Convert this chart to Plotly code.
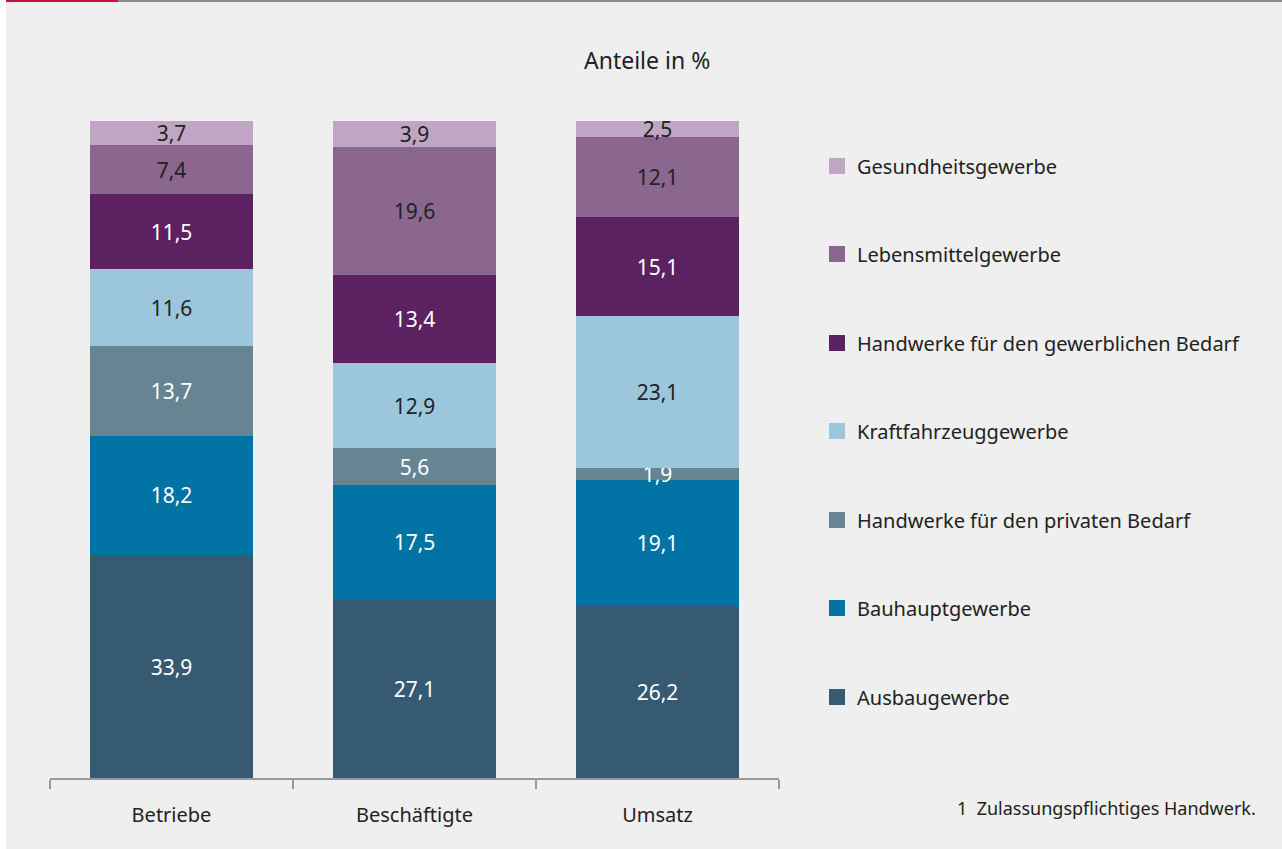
import plotly.graph_objects as go

categories = ["Betriebe", "Beschäftigte", "Umsatz"]
series_names = [
    "Ausbaugewerbe",
    "Bauhauptgewerbe",
    "Handwerke für den privaten Bedarf",
    "Kraftfahrzeuggewerbe",
    "Handwerke für den gewerblichen Bedarf",
    "Lebensmittelgewerbe",
    "Gesundheitsgewerbe",
]
ausbau = [33.9, 27.1, 26.2]
bauhaupt = [18.2, 17.5, 19.1]
privat = [13.7, 5.6, 1.9]
kfz = [11.6, 12.9, 23.1]
gewerblich = [11.5, 13.4, 15.1]
lebensmittel = [7.4, 19.6, 12.1]
gesundheit = [3.7, 3.9, 2.5]
series_values = [ausbau, bauhaupt, privat, kfz, gewerblich, lebensmittel, gesundheit]

colors = ["#355a72", "#0073a5", "#678493", "#9bc6dc", "#5b2160", "#8b668f", "#c0a6c4"]
text_colors = ["white", "white", "white", "#222222", "white", "#222222", "#222222"]

FONT = "Noto Sans"
W, H = 1282, 849
L, R, T, B = 50, 779, 121, 778  # plot area in px


def px(x):
    return (x - L) / (R - L)


def py(y):
    return (B - y) / (B - T)


fig = go.Figure()
for name, vals, col, tcol in zip(series_names, series_values, colors, text_colors):
    fig.add_trace(go.Bar(
        x=categories, y=vals, name=name,
        marker=dict(color=col, line=dict(width=0)),
        text=[f"{v:.1f}".replace(".", ",") for v in vals],
        textposition="inside", insidetextanchor="middle", textangle=0,
        textfont=dict(family=FONT, size=21, color=tcol),
        showlegend=False, hoverinfo="x+y+name",
    ))

shapes = []
annotations = []
# top rule
shapes.append(dict(type="rect", xref="paper", yref="paper", x0=px(6), x1=px(118), y0=py(2), y1=py(0),
                   fillcolor="#c8103e", line=dict(width=0), layer="above"))
shapes.append(dict(type="rect", xref="paper", yref="paper", x0=px(118), x1=px(W), y0=py(2), y1=py(0),
                   fillcolor="#8a8a8a", line=dict(width=0), layer="above"))
shapes.append(dict(type="rect", xref="paper", yref="paper", x0=px(0), x1=px(6), y0=py(H), y1=py(0),
                   fillcolor="white", line=dict(width=0), layer="above"))

# custom legend (top to bottom: reversed stack order)
legend_y = [166, 254, 343, 431, 520, 608, 697]
for i, (name, col) in enumerate(zip(series_names[::-1], colors[::-1])):
    cy = legend_y[i]
    shapes.append(dict(type="rect", xref="paper", yref="paper", x0=px(829), x1=px(845),
                       y0=py(cy + 8), y1=py(cy - 8), fillcolor=col, line=dict(width=0)))
    annotations.append(dict(x=px(855), y=py(cy), xref="paper", yref="paper", text=name,
                            showarrow=False, xanchor="left", yanchor="middle",
                            font=dict(family=FONT, size=20, color="#222222")))

annotations.append(dict(x=px(647), y=py(60), xref="paper", yref="paper", text="Anteile in %",
                        showarrow=False, xanchor="center", yanchor="middle",
                        font=dict(family=FONT, size=23, color="#222222")))
annotations.append(dict(x=px(1258), y=py(808), xref="paper", yref="paper",
                        text="1  Zulassungspflichtiges Handwerk.",
                        showarrow=False, xanchor="right", yanchor="middle",
                        font=dict(family=FONT, size=18, color="#222222")))

fig.update_layout(
    width=W, height=H,
    margin=dict(l=L, r=W - R, t=T, b=H - B, pad=0),
    paper_bgcolor="#eeefee", plot_bgcolor="#eeefee",
    barmode="stack", bargap=0.333,
    uniformtext=dict(minsize=21, mode="show"),
    shapes=shapes, annotations=annotations,
    showlegend=False,
    xaxis=dict(type="category", range=[-0.5, 2.5], tickson="boundaries",
               ticks="outside", ticklen=9, tickwidth=2, tickcolor="#999999",
               ticklabelstandoff=18,
               showline=True, linecolor="#999999", linewidth=2, showgrid=False,
               tickfont=dict(family=FONT, size=20, color="#222222"), fixedrange=True),
    yaxis=dict(range=[0, 100], visible=False, showgrid=False, zeroline=False, fixedrange=True),
)

fig.write_html("out.html", config={"displayModeBar": False},
               post_script="document.body.style.margin='0px';")
